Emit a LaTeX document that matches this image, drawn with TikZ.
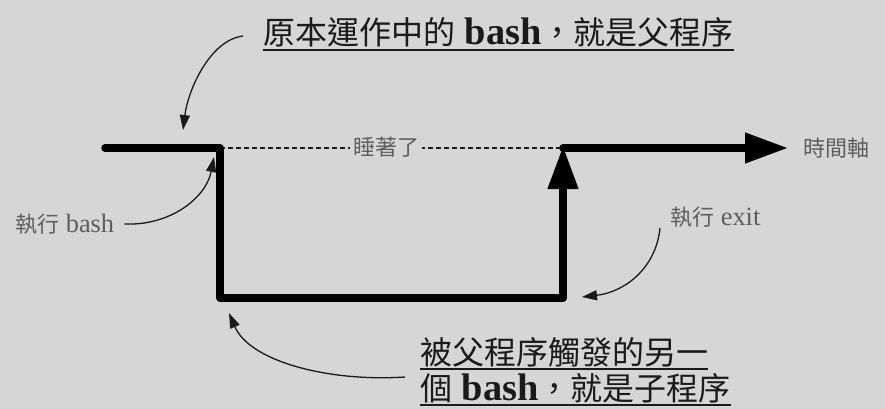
\documentclass[tikz,border=0pt]{standalone}
\usepackage{fontspec}
\setmainfont{Liberation Serif}[Scale=1.2]
\newfontfamily\cjk{Noto Sans CJK TC}
\usetikzlibrary{arrows.meta}
\definecolor{bg}{HTML}{D6D6D6}
\definecolor{lbl}{HTML}{5E5E5E}
\definecolor{ink}{HTML}{1A1A1A}
\tikzset{
  mainline/.style={line width=7.5pt, line cap=round, line join=round, draw=black},
  bigarrow/.style={mainline, -{Triangle[length=43pt,width=29pt]}},
  sleepline/.style={line width=2pt, dash pattern=on 5pt off 3pt, draw=ink},
  callout/.style={line width=1.3pt, draw=ink, -{Triangle[length=15pt,width=10pt]}},
  bigtext/.style={text=ink, inner sep=0pt, anchor=base west, font=\fontsize{32}{38}\selectfont},
  smalltext/.style={text=lbl, inner sep=0pt, font=\fontsize{22}{26}\selectfont},
  uline/.style={line width=1.6pt, draw=ink}
}
\begin{document}
\begin{tikzpicture}[x=1pt,y=-1pt]
\fill[bg] (0,0) rectangle (885,409);
\useasboundingbox (0,0) rectangle (885,409);

\coordinate (start) at (105,148);
\coordinate (fork) at (220,148);
\coordinate (cl) at (220,298);
\coordinate (cr) at (563,298);
\coordinate (ret) at (563,148);
\coordinate (end) at (788,148);

% sleep line
\draw[sleepline] (fork) -- (ret);
\node[smalltext, fill=bg, inner xsep=3pt] (sleep) at (386,147) {\cjk 睡著了};

% main path
\draw[mainline] (start) -- (fork) -- (cl) -- (cr);
\draw[bigarrow] (cr) -- ([yshift=2pt]ret);
\draw[bigarrow] (ret) -- (end);

% labels
\node[smalltext, anchor=west] (tl) at (803,148) {\cjk 時間軸};
\node[smalltext, anchor=west] (runbash) at (15,224) {{\cjk 執行} bash};
\node[smalltext, anchor=west] (runexit) at (670,217) {{\cjk 執行} exit};

\node[bigtext] (parent) at (263,45) {{\cjk 原本運作中的} \textbf{bash}{\cjk ，就是父程序}};
\draw[uline] ([yshift=-5pt]parent.base west) -- ([yshift=-5pt]parent.base east);

\node[bigtext] (child1) at (420,364) {\cjk 被父程序觸發的另一};
\node[bigtext] (child2) at (420,400) {{\cjk 個} \textbf{bash}{\cjk ，就是子程序}};
\draw[uline] ([yshift=-5pt]child1.base west) -- ([yshift=-5pt]child1.base east);
\draw[uline] ([yshift=-5pt]child2.base west) -- ([yshift=-5pt]child2.base east);

% callouts
\coordinate (a1) at (183,130);
\draw[callout] (243,36) .. controls (210,40) and (188,90) .. (a1);
\coordinate (a2) at (214,157);
\draw[callout] ([xshift=10pt]runbash.east) .. controls (170,226) and (206,198) .. (a2);
\coordinate (a3) at (582,297);
\draw[callout] (660,228) .. controls (656,268) and (625,292) .. (a3);
\coordinate (a4) at (229,313);
\draw[callout] (405,377) .. controls (330,382) and (250,362) .. (a4);
\end{tikzpicture}
\end{document}
